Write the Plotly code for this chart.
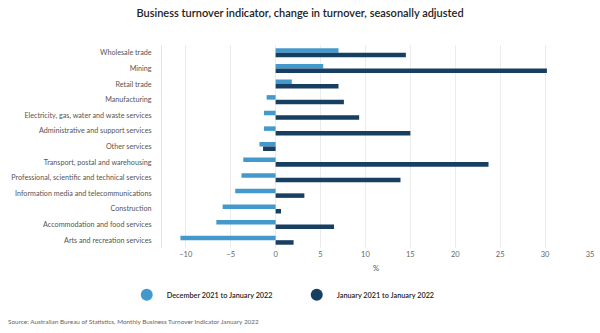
import plotly.graph_objects as go

categories = [
    "Wholesale trade", "Mining", "Retail trade", "Manufacturing",
    "Electricity, gas, water and waste services",
    "Administrative and support services", "Other services",
    "Transport, postal and warehousing",
    "Professional, scientific and technical services",
    "Information media and telecommunications", "Construction",
    "Accommodation and food services", "Arts and recreation services",
]
monthly = [7.0, 5.3, 1.8, -1.0, -1.3, -1.3, -1.8, -3.6, -3.8, -4.5, -5.9, -6.6, -10.6]
annual = [14.5, 30.2, 7.0, 7.6, 9.3, 15.0, -1.4, 23.7, 13.9, 3.2, 0.6, 6.5, 2.0]
series_names = ["December 2021 to January 2022", "January 2021 to January 2022"]
x_ticks = [-10, -5, 0, 5, 10, 15, 20, 25, 30, 35]

LIGHT = "#4499CC"
DARK = "#173F62"
FONT = "Lato"

fig = go.Figure()
for name, vals, col in [(series_names[0], monthly, LIGHT), (series_names[1], annual, DARK)]:
    fig.add_trace(go.Bar(y=categories, x=vals, orientation="h", name=name,
                         marker=dict(color=col, line=dict(width=0)), showlegend=False))
    fig.add_trace(go.Scatter(x=[None], y=[None], mode="markers", name=name,
                             marker=dict(color=col, size=12, symbol="circle")))

fig.update_layout(
    width=600, height=333,
    margin=dict(l=162, r=6, t=45, b=85),
    paper_bgcolor="white", plot_bgcolor="white",
    barmode="group", bargap=0.42, bargroupgap=0.0,
    font=dict(family=FONT, size=7, color="#555555"),
    title=dict(text="Business turnover indicator, change in turnover, seasonally adjusted",
               x=0.5, xanchor="center", y=1 - 13 / 333, yanchor="middle",
               font=dict(family=FONT, size=11, color="#222222", weight=600)),
    xaxis=dict(range=[-12.65, 35], tickvals=x_ticks, showgrid=True, gridcolor="#ECECEC",
               gridwidth=1, zeroline=False, showline=False, ticks="",
               tickfont=dict(size=7.5, color="#666666"),
               title=dict(text="%", font=dict(size=7.5, color="#555555"), standoff=8)),
    yaxis=dict(autorange="reversed", showgrid=False, showline=True, linecolor="#E4E4E4",
               linewidth=1, ticks="", ticklabelstandoff=8, automargin=False,
               tickfont=dict(size=7.2, color="#555555")),
    legend=dict(orientation="h", x=(298 - 162) / 432, xanchor="center", y=-0.23, yanchor="middle",
                font=dict(size=7.3, color="#222222", weight=600), itemsizing="trace",
                entrywidth=125, traceorder="normal"),
    annotations=[dict(text="Source: Australian Bureau of Statistics, Monthly Business Turnover Indicator January 2022",
                      xref="paper", yref="paper", x=-157 / 432, y=-(321 - 248) / 203,
                      xanchor="left", yanchor="middle", showarrow=False,
                      font=dict(size=6.4, color="#666666"))],
)
fig.write_html("out.html")
